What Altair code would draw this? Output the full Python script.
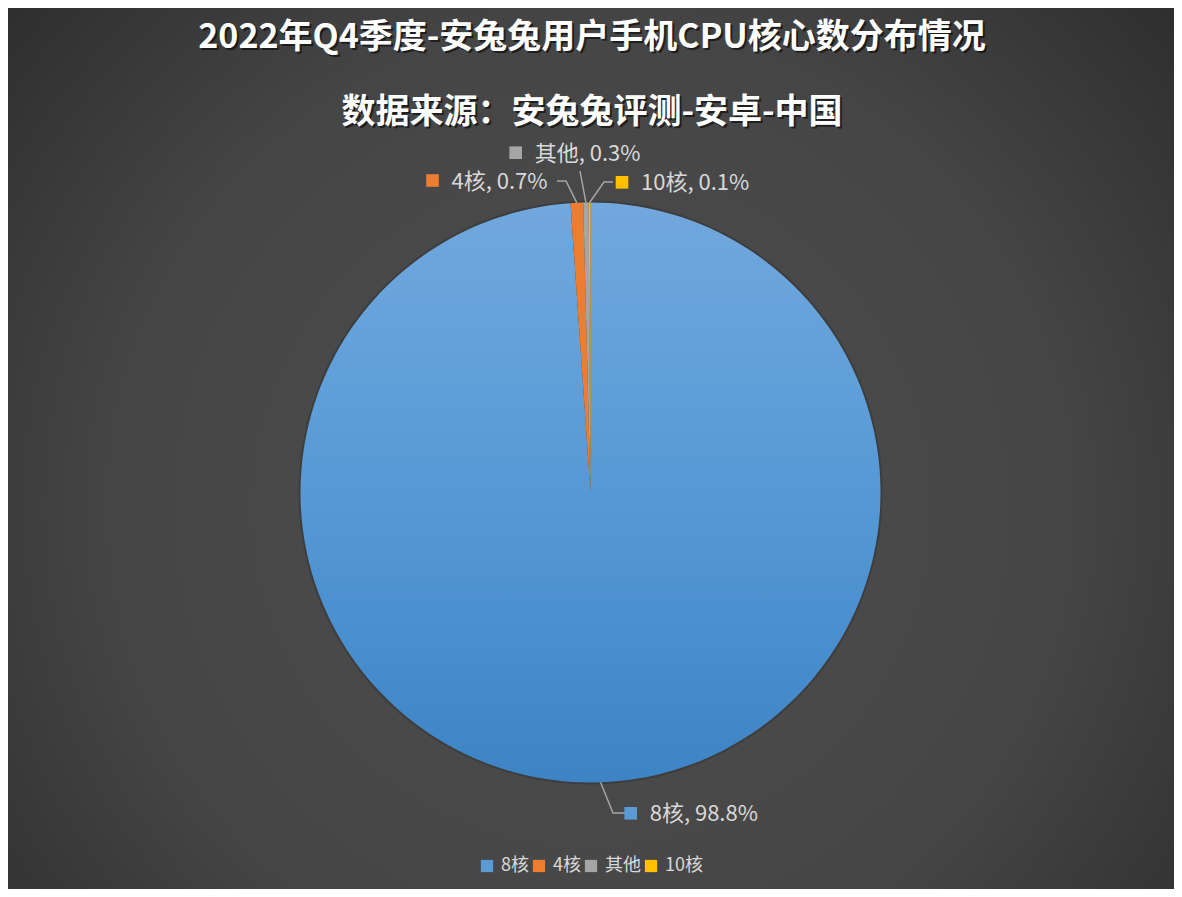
import math
import altair as alt
import pandas as pd

# ---- data ----
categories = ["8核", "4核", "其他", "10核"]
values = [98.8, 0.7, 0.3, 0.1]
colors = ["#5b9bd5", "#ed7d31", "#a5a5a5", "#ffc000"]
title_lines = ["2022年Q4季度-安兔兔用户手机CPU核心数分布情况", "数据来源：安兔兔评测-安卓-中国"]

# ---- layout / style ----
W, H = 1166, 881
CX, CY, R = 582.5, 484.5, 290
FONT = "Noto Sans CJK SC"
LABEL_COLOR = "#d9d9d9"
# leader-line elbow/end points and label marker positions (layout only)
label_layout = {
    "8核": {"pts": [(605, 805), (617, 805)], "sq": (622.7, 805.3)},
    "4核": {"pts": [(558, 173), (549, 173)], "sq": (424.5, 172.5)},
    "其他": {"pts": [(572, 163)], "sq": (507.7, 144.7)},
    "10核": {"pts": [(596, 174), (605, 174)], "sq": (614.0, 174.3)},
}

df = pd.DataFrame({"cat": categories, "value": values, "order": list(range(len(categories)))})

# leader lines: start on the rim at each slice's mid-angle
total = sum(values)
rows, sq_rows = [], []
cum = 0.0
for c, v in zip(categories, values):
    mid = (cum + v / 2) / total * 2 * math.pi
    cum += v
    sx, sy = CX + R * math.sin(mid), CY - R * math.cos(mid)
    pts = [(sx, sy)] + label_layout[c]["pts"]
    for i, (px, py) in enumerate(pts):
        rows.append({"cat": c, "idx": i, "px": px, "py": py})
    qx, qy = label_layout[c]["sq"]
    sq_rows.append({"cat": c, "px": qx, "py": qy, "label": f"{c}, {v}%"})
lines_df = pd.DataFrame(rows)
sq_df = pd.DataFrame(sq_rows)

color_scale = alt.Scale(domain=categories, range=colors)

bg_grad = {
    "gradient": "radial",
    "x1": 0.5, "y1": 0.55, "r1": 0,
    "x2": 0.5, "y2": 0.55, "r2": 0.75,
    "stops": [
        {"offset": 0, "color": "#4f4f4f"},
        {"offset": 0.55, "color": "#454545"},
        {"offset": 1, "color": "#262626"},
    ],
}
blue_grad = {
    "gradient": "linear",
    "x1": 0, "y1": 0, "x2": 0, "y2": 1,
    "stops": [
        {"offset": 0, "color": "#71a8dd"},
        {"offset": 0.5, "color": "#5699d6"},
        {"offset": 1, "color": "#3d84c5"},
    ],
}

one = pd.DataFrame({"a": [0]})

background = alt.Chart(one).mark_rect(color=bg_grad).encode(
    x=alt.value(0), x2=alt.value(W), y=alt.value(0), y2=alt.value(H)
)

shadow = alt.Chart(one).mark_arc(
    x=CX, y=CY, radius=R + 2, theta=0, theta2=2 * math.pi, opacity=0.25
).encode(color=alt.value("#1a1a1a"))

pie = alt.Chart(df).mark_arc(x=CX, y=CY, radius=R).encode(
    theta=alt.Theta("value:Q", stack=True),
    order=alt.Order("order:Q"),
    color=alt.condition(
        alt.datum.cat == "8核",
        alt.value(blue_grad),
        alt.Color(
            "cat:N",
            scale=color_scale,
            sort=categories,
            legend=alt.Legend(
                title=None,
                orient="none",
                legendX=470,
                legendY=849,
                direction="horizontal",
                columns=4,
                symbolType="square",
                symbolSize=150,
                symbolStrokeWidth=0,
                labelFont=FONT,
                labelFontSize=18,
                labelColor=LABEL_COLOR,
                labelOffset=5,
                columnPadding=1,
                padding=0,
            ),
        ),
    ),
)

leaders = alt.Chart(lines_df).mark_line(color="#a6a6a6", strokeWidth=1.5).encode(
    x=alt.X("px:Q", scale=None),
    y=alt.Y("py:Q", scale=None),
    detail="cat:N",
    order="idx:Q",
)

markers = alt.Chart(sq_df).mark_square(size=160, opacity=1, filled=True).encode(
    x=alt.X("px:Q", scale=None),
    y=alt.Y("py:Q", scale=None),
    color=alt.Color("cat:N", scale=color_scale, legend=None),
)

label_text = alt.Chart(sq_df).mark_text(
    align="left", baseline="middle", dx=19, dy=1, font=FONT, fontSize=22, color=LABEL_COLOR
).encode(
    x=alt.X("px:Q", scale=None),
    y=alt.Y("py:Q", scale=None),
    text="label:N",
)

title_layers = []
for line, ty in zip(title_lines, [30, 105]):
    for is_shadow in (True, False):
        title_layers.append(
            alt.Chart(one).mark_text(
                align="center", baseline="middle", font=FONT, fontSize=34, fontWeight="bold",
                color="#000000" if is_shadow else "#ffffff",
                opacity=0.55 if is_shadow else 1,
                dx=2 if is_shadow else 0, dy=2 if is_shadow else 0,
            ).encode(x=alt.value(584), y=alt.value(ty), text=alt.value(line))
        )

chart = alt.layer(background, shadow, pie, leaders, markers, label_text, *title_layers).properties(
    width=W, height=H, padding=0, autosize=alt.AutoSizeParams(type="none"),
    background="#2b2b2b",
).configure_view(stroke=None)

chart.save("out.html", embed_options={"renderer": "svg", "actions": False})
